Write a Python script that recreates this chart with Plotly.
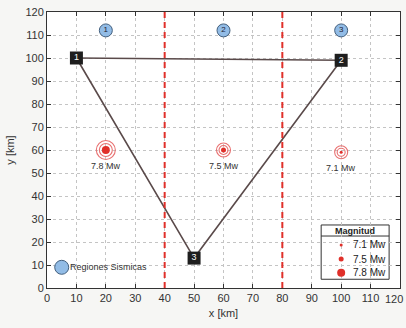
import plotly.graph_objects as go

# Node coordinates of the fault triangle [km]
node_ids = ["1", "2", "3"]
node_x = [10, 100, 50]
node_y = [100, 99, 13]

# Seismic region markers
region_ids = ["1", "2", "3"]
region_x = [20, 60, 100]
region_y = [112, 112, 112]

# Region boundaries [km]
boundary_x = [40, 80]

# Earthquake epicentres and magnitudes
quake_x = [20, 60, 100]
quake_y = [60, 60, 59]
quake_mw = [7.8, 7.5, 7.1]
quake_labels = ["7.8 Mw", "7.5 Mw", "7.1 Mw"]

# Legend entries
legend_mw = [7.1, 7.5, 7.8]
legend_labels = ["7.1 Mw", "7.5 Mw", "7.8 Mw"]

RED = "#e0302a"
FONT = "Liberation Sans, Arial, sans-serif"


def dot_size(mw):
    return {7.1: 3, 7.5: 5, 7.8: 8}[mw]


def ring_sizes(mw):
    return {7.1: [13, 8], 7.5: [14, 9], 7.8: [19, 13]}[mw]


fig = go.Figure()

# Triangle edges
tri_x = [node_x[0], node_x[1], None, node_x[0], node_x[2], node_x[1]]
tri_y = [node_y[0], node_y[1], None, node_y[0], node_y[2], node_y[1]]
fig.add_trace(go.Scatter(x=tri_x, y=tri_y, mode="lines",
                         line=dict(color="#5a4a4a", width=1.6),
                         hoverinfo="skip", showlegend=False))

# Concentric rings around each epicentre
for qx, qy, mw in zip(quake_x, quake_y, quake_mw):
    for s in ring_sizes(mw):
        fig.add_trace(go.Scatter(x=[qx], y=[qy], mode="markers",
                                 marker=dict(symbol="circle-open", size=s,
                                             color="#e87070", line=dict(width=1.1)),
                                 showlegend=False, hoverinfo="skip"))
    fig.add_trace(go.Scatter(x=[qx], y=[qy], mode="markers",
                             marker=dict(size=dot_size(mw), color=RED,
                                         line=dict(width=0)),
                             showlegend=False))

# Magnitude labels
for qx, qy, lab in zip(quake_x, quake_y, quake_labels):
    fig.add_annotation(x=qx, y=qy - 7, text=lab, showarrow=False,
                       font=dict(family=FONT, size=9, color="#333"))

# Region markers
fig.add_trace(go.Scatter(x=region_x, y=region_y, mode="markers+text",
                         text=region_ids, textposition="middle center",
                         textfont=dict(family=FONT, size=8, color="#223"),
                         marker=dict(size=13, color="#92bce6",
                                     line=dict(color="#44607e", width=1)),
                         showlegend=False))

# Node boxes
fig.add_trace(go.Scatter(x=node_x, y=node_y, mode="markers+text",
                         text=node_ids, textposition="middle center",
                         textfont=dict(family=FONT, size=9, color="white"),
                         marker=dict(symbol="square", size=13, color="#1e1e1e",
                                     line=dict(color="#1e1e1e", width=0)),
                         showlegend=False))

# Boundaries
for bx in boundary_x:
    fig.add_shape(type="line", x0=bx, x1=bx, y0=0, y1=120, xref="x", yref="y",
                  line=dict(color=RED, width=2, dash="6px,4px"))

# "Regiones Sismicas" key
fig.add_trace(go.Scatter(x=[5], y=[9], mode="markers",
                         marker=dict(size=14, color="#92bce6",
                                     line=dict(color="#44607e", width=1)),
                         showlegend=False))
fig.add_annotation(x=7.2, y=9, text="Regiones Sismicas", showarrow=False,
                   xanchor="left", font=dict(family=FONT, size=9, color="#333"))

# Magnitude legend box
fig.add_shape(type="rect", x0=93.2, x1=116.3, y0=3.8, y1=27.4,
              line=dict(color="#333", width=1), fillcolor="white", layer="below")
fig.add_shape(type="line", x0=93.2, x1=116.3, y0=22.6, y1=22.6,
              line=dict(color="#333", width=1), layer="below")
fig.add_annotation(x=104.75, y=25, text="<b>Magnitud</b>", showarrow=False,
                   font=dict(family=FONT, size=9, color="#222"))
leg_y = [18.7, 12.6, 6.6]
for ly, mw, lab in zip(leg_y, legend_mw, legend_labels):
    fig.add_trace(go.Scatter(x=[100], y=[ly], mode="markers",
                             marker=dict(size=dot_size(mw), color=RED, line=dict(width=0)),
                             showlegend=False))
    fig.add_annotation(x=103.2, y=ly, text=lab, showarrow=False, xanchor="left",
                       font=dict(family=FONT, size=10, color="#222"))

axis_common = dict(
    range=[0, 120], dtick=10, tick0=0,
    showgrid=True, gridcolor="#c4c4c4", griddash="dot", gridwidth=1,
    zeroline=False, showline=True, linecolor="#333", linewidth=1, mirror="ticks",
    ticks="inside", ticklen=4, tickcolor="#333",
    tickfont=dict(family=FONT, size=11, color="#333"),
    title_font=dict(family=FONT, size=11, color="#333"),
)
fig.update_xaxes(**axis_common, title_text="x [km]", title_standoff=6)
fig.update_yaxes(**axis_common, title_text="y [km]", title_standoff=8)

# last x tick label sits at the page edge; nudge it inward so it stays whole
fig.add_annotation(x=120, y=0, xref="x", yref="paper", yanchor="top", yshift=-3,
                   xanchor="right", xshift=5, text="120", showarrow=False,
                   font=dict(family=FONT, size=11, color="#333"))

fig.update_layout(
    width=406, height=328,
    margin=dict(l=47, r=6, t=12, b=40),
    paper_bgcolor="#f6f6f4", plot_bgcolor="white",
    showlegend=False,
)

fig.write_html("out.html")
